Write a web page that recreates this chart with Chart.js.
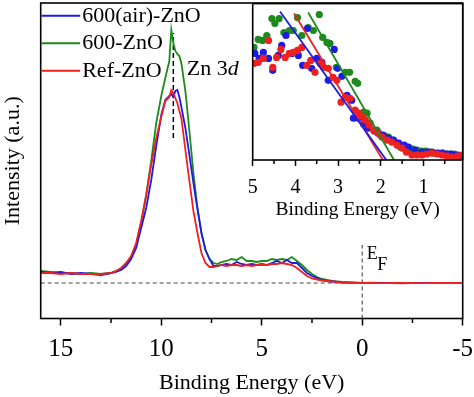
<!DOCTYPE html>
<html><head><meta charset="utf-8">
<script src="https://cdn.jsdelivr.net/npm/chart.js@4.4.1/dist/chart.umd.min.js"></script>
<style>
html,body{margin:0;padding:0;background:#fff;}
#wrap{position:relative;width:474px;height:397px;overflow:hidden;}
#main{position:absolute;left:0;top:0;}
#inset{position:absolute;left:230px;top:0;}
</style></head><body>
<div id="wrap"><canvas id="main" width="474" height="397"></canvas><canvas id="inset" width="244" height="230"></canvas></div>
<script>
// ---------- main panel data ----------
const energy = [16,15.5,15,14.5,14,13.5,13,12.5,
  12.25,12,11.75,11.5,11.25,11,10.75,10.5,10.25,10,
  9.8,9.6,
  9.5,9.4,9.3,9.2,9.1,9.0,
  8.8,8.6,8.4,8.2,8.0,7.8,7.6,7.4,7.2,7.0,
  6.75,6.5,6.25,6,5.75,5.5,5.25,5,4.75,4.5,4.25,4,3.75,3.5,3.25,3,2.75,2.5,2.25,2,1.75,1.5,1.25,1,
  0.5,0,-0.5,-1,-1.5,-2,-2.5,-3,-3.5,-4,-4.5,-5];
const airZnO = [11,10,11,9,10,9,8,10,
  11,13,17,24,35,55,75,103,137,168,
  183,187,
  189,186,192,193,186,176,
  155,128,100,74,50,33,24,17,17,18,
  19,18,21,19,18,19,18,19,18,20,22,20,23,20,20,15,10,7,5,3,2,1.5,1,0.5,
  0.3,0,-0.2,0.2,0,-0.3,0,0.2,0,-0.2,0,0.1];
const znO600 = [12,11,10,10,9,10,9,10,
  12,14,19,26,38,60,88,122,160,187,
  205,222,
  253,240,232,229,227,220,
  192,152,110,75,50,33,24,20,19,21,
  22,24,23,26,22,22,21,22,22,24,23,24,23,26,22,18,13,9,6,4,3,2,1.5,1,
  0.5,0,0.3,0,-0.2,0,0.2,0,-0.2,0,0.2,0];
const refZnO = [10,10,9,10,9,9,9,10,
  12,15,20,27,40,62,88,118,145,166,
  182,186,
  193,190,185,180,172,165,
  133,102,72,50,30,20,16,16,17,18,
  17,18,18,17,18,17,18,18,18,19,19,20,19,18,15,11,7,4.5,3.5,2.5,2,1.5,1,0.5,
  0,0.2,0,-0.2,0,0.2,0,-0.1,0,0.2,0,0];
const baseE = [16,-5], baseV = [0,0];
const efE = [0,0], efV = [-35.5,38];
const znE = [9.4,9.4], znV = [145,250];
const seriesNames = ['600(air)-ZnO','600-ZnO','Ref-ZnO'];
const mainTicks = [15,10,5,0,-5];
const mainMinor = [12.5,7.5,2.5,-2.5];

// ---------- inset data ----------
const insetGreenE = [4.97,4.87,4.77,4.67,4.55,4.48,4.38,4.27,4.14,4.05,3.95,3.85,3.70,3.58,3.44,3.36,3.26,3.19,3.04,2.83,2.73,2.60,2.54,2.40,2.32,2.25,2.09,2.01,1.90,1.82,1.72,1.62,1.54,1.45,1.35,1.25,1.15,1.05,0.95,0.85,0.76,0.65,0.55,0.45,0.37,0.27,0.18];
const insetGreenV = [113,121,120,125,142,137,142,128,130,130,143,125,133,130,146,123,118,117,93,88,88,79,77,48,47,37,30,25,24,23,20,17,13,13,12,11,10,9,9,8,7,7,7,6,6,6,5];
const insetBlueE = [4.95,4.85,4.75,4.63,4.53,4.40,4.32,4.22,4.08,3.93,3.83,3.72,3.62,3.50,3.38,3.23,3.09,3.01,2.91,2.79,2.68,2.64,2.52,2.40,2.29,2.15,2.05,1.95,1.82,1.70,1.58,1.45,1.35,1.20,1.03,0.90,0.80,0.68,0.56,0.45,0.35,0.25,0.15];
const insetBlueV = [107,102,108,102,90,105,115,125,107,105,95,132,92,102,98,80,111,92,84,65,60,42,42,36,32,29,27,25,22,20,17,15,13,10,8,8,8,7,7,6,6,5,4];
const insetRedE = [4.97,4.87,4.75,4.63,4.53,4.44,4.34,4.24,4.14,4.05,3.95,3.85,3.73,3.64,3.54,3.42,3.34,3.23,3.12,3.03,2.93,2.83,2.72,2.60,2.52,2.45,2.36,2.27,2.17,2.07,1.97,1.85,1.74,1.62,1.50,1.40,1.27,1.15,1.03,0.92,0.80,0.68,0.56,0.45,0.33,0.20,0.09];
const insetRedV = [97,98,102,120,93,103,111,103,107,108,110,113,95,100,88,97,93,92,83,80,58,63,62,50,47,44,40,35,30,27,23,20,18,15,12,8,5,5,5,6,7,6,5,4,3,4,5];
const fitBlueE = [4.36,1.87], fitBlueV = [149,0];
const fitRedE = [4.03,1.95], fitRedV = [147,0];
const fitGreenE = [3.70,1.69], fitGreenV = [148,0];
const insetMinor = [4.5,3.5,2.5,1.5,0.5];

// ---------- styling ----------
const BLUE = '#1c1ce6', GREEN = '#1d8a1d', RED = '#ef2020';
const seriesColors = [BLUE, GREEN, RED];
const FONT = '"Liberation Serif", "Times New Roman", serif';
const toXY = (xs, ys) => xs.map((x, i) => ({x: x, y: ys[i]}));

const framePlugin = {
  id: 'frame',
  beforeDraw(chart) {
    const {ctx, chartArea: a} = chart;
    ctx.save(); ctx.fillStyle = '#fff';
    ctx.fillRect(a.left, a.top, a.right - a.left, a.bottom - a.top);
    ctx.restore();
  },
  afterDraw(chart) {
    const {ctx, chartArea: a} = chart;
    const o = chart.options.plugins.frame || {};
    ctx.save();
    ctx.strokeStyle = '#000'; ctx.lineWidth = 1.6;
    ctx.strokeRect(a.left, a.top, a.right - a.left, a.bottom - a.top);
    const xs = chart.scales.x;
    ctx.lineWidth = 1.5;
    (o.minor || []).forEach(v => {
      const p = xs.getPixelForValue(v);
      ctx.beginPath(); ctx.moveTo(p, a.bottom); ctx.lineTo(p, a.bottom + (o.minorLen || 4)); ctx.stroke();
    });
    ctx.restore();
  }
};

const mainLabels = {
  id: 'mainLabels',
  afterDatasetsDraw(chart) {
    const ctx = chart.ctx, a = chart.chartArea, xs = chart.scales.x;
    ctx.save();
    ctx.textBaseline = 'middle';
    ctx.font = '22px ' + FONT;
    seriesNames.forEach((name, i) => {
      const y = a.top + 12.7 + i * 27.5;
      ctx.strokeStyle = seriesColors[i]; ctx.lineWidth = 2;
      ctx.beginPath(); ctx.moveTo(a.left + 1, y); ctx.lineTo(a.left + 39.5, y); ctx.stroke();
      ctx.fillStyle = '#000';
      ctx.fillText(name, a.left + 41.5, y + 0.5);
    });
    ctx.textBaseline = 'alphabetic';
    ctx.fillStyle = '#000';
    const zx = xs.getPixelForValue(9.4) + 13.5;
    ctx.font = '22px ' + FONT;
    ctx.fillText('Zn 3', zx, 75);
    const w = ctx.measureText('Zn 3').width;
    ctx.font = 'italic 22px ' + FONT;
    ctx.fillText('d', zx + w, 75);
    const ex = xs.getPixelForValue(0) + 4.5;
    ctx.font = '18px ' + FONT;
    ctx.fillText('E', ex, 258.5);
    ctx.fillText('F', ex + 10.5, 270);
    ctx.restore();
  }
};

const lineDs = (label, xs, ys, color, order, extra) => Object.assign({
  label: label, data: toXY(xs, ys), borderColor: color, backgroundColor: color,
  borderWidth: 1.8, pointRadius: 0, tension: 0, fill: false, order: order
}, extra || {});

const noSidePad = s => { s.paddingLeft = 0; s.paddingRight = 0; };

new Chart(document.getElementById('main'), {
  type: 'line',
  data: {
    datasets: [
      lineDs(seriesNames[0], energy, airZnO, BLUE, 1),
      lineDs(seriesNames[1], energy, znO600, GREEN, 2),
      lineDs(seriesNames[2], energy, refZnO, RED, 0),
      lineDs('baseline', baseE, baseV, '#444', 3, {borderWidth: 1, borderDash: [4, 3]}),
      lineDs('EF', efE, efV, '#555', 3, {borderWidth: 1.2, borderDash: [4, 3]}),
      lineDs('Zn3d', znE, znV, '#000', 3, {borderWidth: 1.5, borderDash: [5, 3]})
    ]
  },
  options: {
    responsive: false, animation: false, devicePixelRatio: 1,
    layout: {padding: {left: 0, right: 11.3, top: 3, bottom: 0}},
    plugins: {legend: {display: false}, tooltip: {enabled: false},
      frame: {minor: mainMinor, minorLen: 4.5}},
    scales: {
      x: {
        type: 'linear', reverse: true, min: -5, max: 16,
        afterBuildTicks: s => { s.ticks = mainTicks.map(v => ({value: v})); },
        ticks: {stepSize: 5, includeBounds: false, color: '#000', padding: 9, maxRotation: 0,
          font: {family: FONT, size: 25}},
        grid: {drawOnChartArea: false, drawTicks: true, tickLength: 7, tickColor: '#000', tickWidth: 1.5},
        border: {display: false},
        title: {display: true, text: 'Binding Energy (eV)', color: '#000',
          font: {family: FONT, size: 22}, padding: {top: 0, bottom: 1}},
        afterFit: s => { s.height = 78.5; noSidePad(s); }
      },
      y: {
        min: -35.5, max: 280,
        ticks: {display: false}, grid: {display: false}, border: {display: false},
        title: {display: true, text: 'Intensity (a.u.)', color: '#000',
          font: {family: FONT, size: 22}, padding: 0},
        afterFit: s => { s.width = 40.7; s.paddingTop = 0; s.paddingBottom = 0; }
      }
    }
  },
  plugins: [framePlugin, mainLabels]
});

const dotDs = (xs, ys, color, order) => ({
  type: 'scatter', data: toXY(xs, ys), backgroundColor: color, borderColor: color,
  borderWidth: 0, pointRadius: 3.6, pointHoverRadius: 3.6, order: order
});

new Chart(document.getElementById('inset'), {
  type: 'scatter',
  data: {
    datasets: [
      lineDs('fitBlue', fitBlueE, fitBlueV, BLUE, 0, {type: 'line', borderWidth: 1.8}),
      lineDs('fitRed', fitRedE, fitRedV, RED, 0, {type: 'line', borderWidth: 1.8}),
      lineDs('fitGreen', fitGreenE, fitGreenV, GREEN, 0, {type: 'line', borderWidth: 1.8}),
      dotDs(insetRedE, insetRedV, RED, 3),
      dotDs(insetBlueE, insetBlueV, BLUE, 4),
      dotDs(insetGreenE, insetGreenV, GREEN, 5)
    ]
  },
  options: {
    responsive: false, animation: false, devicePixelRatio: 1,
    layout: {padding: {left: 22.7, right: 11.3, top: 3, bottom: 0}},
    plugins: {legend: {display: false}, tooltip: {enabled: false},
      frame: {minor: insetMinor, minorLen: 4}},
    scales: {
      x: {
        type: 'linear', reverse: true, min: 0.08, max: 5,
        ticks: {stepSize: 1, includeBounds: false, color: '#000', padding: 10, maxRotation: 0,
          font: {family: FONT, size: 20}},
        grid: {drawOnChartArea: false, drawTicks: true, tickLength: 6, tickColor: '#000', tickWidth: 1.5},
        border: {display: false},
        title: {display: true, text: 'Binding Energy (eV)', color: '#000',
          font: {family: FONT, size: 19.5}, padding: {top: 0, bottom: 8}},
        afterFit: s => { s.height = 70; noSidePad(s); }
      },
      y: {display: false, min: 0, max: 157}
    }
  },
  plugins: [framePlugin]
});
</script></body></html>
